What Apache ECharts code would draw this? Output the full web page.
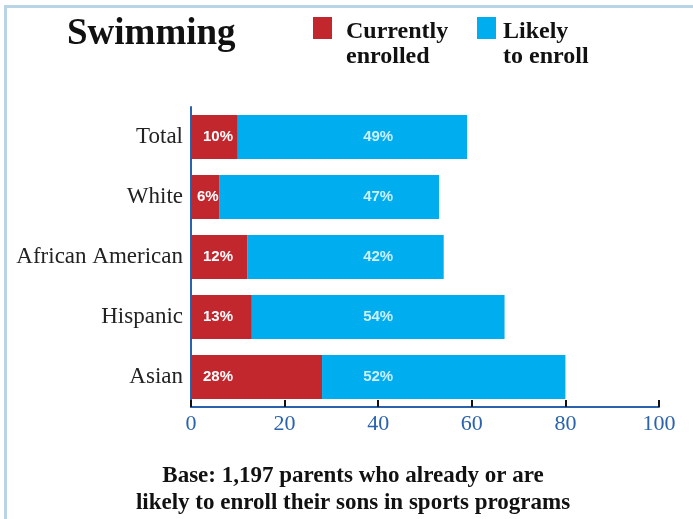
<!DOCTYPE html>
<html>
<head>
<meta charset="utf-8">
<script src="https://cdn.jsdelivr.net/npm/echarts@6/dist/echarts.min.js"></script>
<style>
  html, body { margin: 0; padding: 0; background: #ffffff; }
  #chart { width: 693px; height: 519px; }
</style>
</head>
<body>
<div id="chart"></div>
<script>
// Share of parents (%) by group
const categories = ['Total', 'White', 'African American', 'Hispanic', 'Asian'];
const currentlyEnrolled = [10, 6, 12, 13, 28];
const likelyToEnroll = [49, 47, 42, 54, 52];
const xTicks = [0, 20, 40, 60, 80, 100];

const RED = '#c1272d';
const BLUE = '#00aeef';
const AXIS_BLUE = '#2a62ad';
const FRAME = '#b9d4e4';
const SERIF = '"Liberation Serif", "Times New Roman", serif';
const SANS = '"Liberation Sans", Arial, sans-serif';

const chart = echarts.init(document.getElementById('chart'), null, { renderer: 'canvas' });

// value where the blue-segment labels are centred
const likelyLabelAt = 40;

const barLabel = {
  show: true,
  color: '#ffffff',
  fontFamily: SANS,
  fontWeight: 'bold',
  fontSize: 15,
  formatter: '{c}%'
};

// two-line legend text that hangs below the top of the swatch
function legendText(leftPad) {
  const line = { fontFamily: SERIF, fontWeight: 'bold', fontSize: 24, lineHeight: 25, color: '#111111', padding: [0, 0, 0, leftPad] };
  return {
    rich: {
      gap: { fontSize: 10, lineHeight: 33 },
      t: line
    }
  };
}

chart.setOption({
  backgroundColor: '#ffffff',
  animation: false,
  title: {
    text: 'Swimming',
    left: 67,
    top: 16,
    padding: 0,
    textStyle: { fontFamily: SERIF, fontWeight: 'bold', fontSize: 37, color: '#111111' }
  },
  legend: [
    {
      data: ['Currently enrolled'],
      left: 313, top: -2, padding: 0,
      icon: 'rect', itemWidth: 19, itemHeight: 22,
      formatter: () => '{gap| }\n{t|Currently}\n{t|enrolled}',
      textStyle: legendText(9)
    },
    {
      data: ['Likely to enroll'],
      left: 477, top: -2, padding: 0,
      icon: 'rect', itemWidth: 19, itemHeight: 22,
      formatter: () => '{gap| }\n{t|Likely}\n{t|to enroll}',
      textStyle: legendText(2)
    }
  ],
  grid: { left: 191, top: 107, width: 468, height: 300, containLabel: false },
  xAxis: {
    type: 'value',
    min: xTicks[0],
    max: xTicks[xTicks.length - 1],
    interval: xTicks[1] - xTicks[0],
    splitLine: { show: false },
    axisLine: { show: true, lineStyle: { color: AXIS_BLUE, width: 2 } },
    axisTick: { show: true, inside: true, length: 7, lineStyle: { color: '#111111', width: 2 } },
    axisLabel: { color: AXIS_BLUE, fontFamily: SERIF, fontSize: 22, margin: 6 }
  },
  yAxis: {
    type: 'category',
    data: categories,
    inverse: true,
    axisLine: { show: true, lineStyle: { color: AXIS_BLUE, width: 2 } },
    axisTick: { show: false },
    axisLabel: { color: '#222222', fontFamily: SERIF, fontSize: 23, margin: 8 }
  },
  series: [
    {
      name: 'Currently enrolled',
      type: 'bar',
      stack: 'share',
      barWidth: 44,
      itemStyle: { color: RED },
      label: Object.assign({}, barLabel, { position: 'insideLeft' }),
      data: currentlyEnrolled.map(v => ({ value: v, label: { distance: v < 8 ? 6 : 12 } }))
    },
    {
      name: 'Likely to enroll',
      type: 'bar',
      stack: 'share',
      barWidth: 44,
      itemStyle: { color: BLUE },
      data: likelyToEnroll
    },
    {
      // carries the labels of the blue segments at a common position
      name: 'likelyLabels',
      type: 'scatter',
      symbolSize: 1,
      itemStyle: { color: 'rgba(0,0,0,0)' },
      silent: true,
      z: 5,
      label: Object.assign({}, barLabel, {
        position: 'inside',
        formatter: p => p.data.text
      }),
      data: likelyToEnroll.map((v, i) => ({ value: [likelyLabelAt, categories[i]], text: v + '%' }))
    }
  ],
  graphic: [
    { type: 'rect', shape: { x: 4, y: 5, width: 3, height: 514 }, style: { fill: FRAME }, silent: true },
    { type: 'rect', shape: { x: 4, y: 5, width: 689, height: 3 }, style: { fill: FRAME }, silent: true },
    {
      type: 'text',
      x: 353, y: 463,
      style: {
        text: 'Base: 1,197 parents who already or are\nlikely to enroll their sons in sports programs',
        fontFamily: SERIF, fontWeight: 'bold', fontSize: 23, lineHeight: 27,
        fill: '#111111', align: 'center', verticalAlign: 'top'
      }
    }
  ]
});
</script>
</body>
</html>
